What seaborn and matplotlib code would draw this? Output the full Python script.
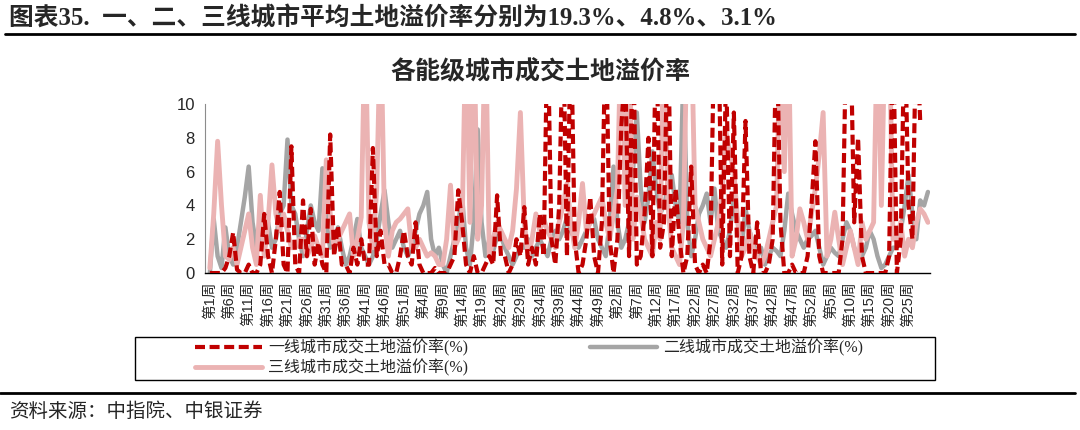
import numpy as np
import pandas as pd
import seaborn as sns
import matplotlib
matplotlib.use("Agg")
import matplotlib.pyplot as plt
from matplotlib.patches import Rectangle

nan = np.nan

# 一线城市成交土地溢价率(%)，周度
tier1 = [
    0, 0, 0, 0, 0.3, 1.0, 2.4, 0.2, 0, 0,
    0.5, 0, 0, 0.5, 3.5, 1.0, 0, 2.0, 4.8, 0.5,
    0, 7.5, 0.5, 0, 4.3, 1.0, 3.8, 0.5, 1.8, 0.5,
    0, 8.2, 1.0, 2.8, 0.5, 0.5, 0, 1.5, 0.5, 2.0,
    0.5, 0.5, 7.4, 1.0, 2.5, 0.5, 0.5, 0, 0, 1.0,
    2.5, 1.0, 0.5, 3.0, 0.5, 0, 0, 0, 0.3, 0,
    0, 0, 0.5, 1.0, 4.9, 3.0, 0.5, 0, 1.0, 0,
    0, 0.5, 1.0, 0.5, 4.6, 1.0, 1.0, 0, 0.5, 2.0,
    1.0, 3.9, 0.5, 1.5, 0.5, 3.5, 1.0, 15, 2.0, 0.5,
    4.0, 15, 1.0, 15, 2.0, 0, 0.5, 2.0, 4.5, 1.0,
    0, 3.0, 15, 2.0, 0, 2.0, 8.7, 12, 1.0, 15,
    0.5, 1.0, 3.5, 8.0, 1.0, 15, 1.5, 3.0, 15, 1.0,
    5.0, 2.0, 0, 1.0, 6.3, 0.5, 0, 0.5, 0, 2.0,
    15, 15, 0.5, 12, 1.0, 9.5, 0, 1.0, 9.0, 1.0,
    0, 3.0, 0, 0, 0.5, 2.0, 15, 3.0, 0, 0,
    0.5, 0, 0, 0, 1.0, 4.0, 7.8, 1.0, 0, 0,
    0, 0, 0, 2.0, 15, 15, 3.0, 8.0, 1.0, 0,
    0, 0, 0, 0, 0, 1.0, 15, 0, 2.0, 15,
    4.0, 2.0, 15, 9.0, nan, nan,
]

# 二线城市成交土地溢价率(%)
tier2 = [
    0, 3.2, 1.0, 0.3, 2.7, 1.0, 0.5, 1.5, 3.0, 4.5,
    6.3, 3.0, 1.5, 2.0, 2.5, 3.0, 1.5, 2.0, 3.5, 4.0,
    7.9, 4.0, 3.5, 2.0, 1.0, 2.5, 4.0, 3.0, 2.5, 6.2,
    3.0, 1.5, 2.0, 2.7, 1.5, 0.5, 1.0, 2.0, 3.2, 1.5,
    1.0, 0.5, 1.0, 2.0, 3.5, 4.9, 3.0, 1.5, 2.0, 2.5,
    1.5, 1.0, 1.5, 2.5, 3.5, 4.0, 4.8, 2.0, 1.0, 1.5,
    0.5, 0, 1.0, 2.0, 3.0, 4.5, 1.5, 0.5, 3.0, 8.5,
    3.0, 1.0, 2.0, 1.3, 2.2, 2.2, 1.5, 1.0, 0.5, 1.0,
    1.5, 1.5, 2.0, 1.0, 1.5, 2.0, 1.5, 1.0, 2.0, 2.5,
    2.0, 2.5, 3.3, 2.5, 2.0, 1.5, 2.0, 2.5, 3.0, 3.2,
    2.0, 1.5, 1.0, 3.0, 6.3, 3.0, 1.5, 2.0, 3.0, 6.0,
    9.5, 5.0, 3.0, 4.5, 7.2, 5.0, 3.5, 4.0, 5.0, 5.8,
    4.0, 3.0, 12, 3.0, 1.0, 2.0, 3.5, 4.0, 4.7, 3.0,
    5.0, 2.5, 2.0, 1.5, 2.5, 4.5, 3.0, 1.5, 3.8, 2.5,
    1.8, 1.0, 1.5, 0.5, 1.0, 1.5, 1.3, 1.0, 2.5, 4.7,
    3.5, 2.5, 2.0, 1.5, 2.0, 2.2, 2.5, 1.5, 0.5, 1.0,
    1.5, 1.2, 1.0, 2.0, 3.0, 2.5, 1.5, 1.0, 1.0, 1.5,
    2.5, 2.0, 1.0, 0.3, 0.5, 1.0, 1.5, 1.5, 2.5, 4.0,
    5.8, 3.5, 2.0, 4.3, 4.0, 4.8,
]

# 三线城市成交土地溢价率(%)
tier3 = [
    0.3, 3.5, 7.8, 4.0, 1.0, 0.8, 1.5, 0.5, 1.5, 2.5,
    3.5, 1.5, 0.5, 4.6, 1.0, 3.0, 6.4, 3.5, 2.5, 3.5,
    2.5, 1.5, 1.5, 2.0, 2.0, 1.0, 1.5, 2.2, 1.5, 1.0,
    6.7, 3.5, 1.5, 2.0, 2.5, 3.0, 3.5, 1.0, 2.0, 3.3,
    15, 3.0, 1.5, 5.0, 15, 3.0, 1.0, 2.5, 3.0, 3.2,
    3.5, 3.8, 1.5, 1.5, 2.0, 1.5, 1.0, 1.2, 1.0, 0.5,
    0.5, 2.0, 5.2, 1.5, 2.0, 3.0, 15, 3.0, 15, 2.0,
    4.0, 15, 1.0, 2.0, 3.0, 2.5, 2.0, 1.5, 2.5, 5.0,
    9.5, 3.0, 1.0, 2.0, 3.5, 2.5, 3.2, 2.5, 2.0, 1.5,
    3.0, 4.0, 5.3, 3.0, 1.5, 3.0, 5.3, 2.5, 3.0, 3.5,
    4.0, 4.5, 3.0, 2.0, 3.5, 5.0, 15, 4.0, 15, 2.0,
    4.5, 3.5, 2.0, 1.5, 1.0, 3.0, 2.0, 15, 4.0, 1.5,
    1.0, 0.5, 3.0, 15, 15, 4.0, 3.0, 2.0, 1.5, 1.0,
    2.0, 3.0, 5.0, 8.3, 7.0, 6.0, 3.0, 1.0, 1.5, 2.5,
    1.5, 1.0, 0.5, 1.0, 2.0, 3.0, 4.0, 15, 6.0, 15,
    1.0, 2.0, 3.8, 3.0, 2.0, 3.5, 5.0, 7.0, 9.5, 1.0,
    2.0, 3.6, 2.0, 0.5, 1.5, 2.5, 1.5, 0.5, 3.0, 2.0,
    2.5, 3.0, 15, 4.0, 15, 15, 2.0, 2.0, 3.0, 1.0,
    2.0, 1.5, 3.0, 3.8, 3.5, 3.0,
]

# 横轴标签（每5周一个）
tick_labels = [
    "第1周", "第6周", "第11周", "第16周", "第21周", "第26周", "第31周", "第36周",
    "第41周", "第46周", "第51周", "第4周", "第9周", "第14周", "第19周", "第24周",
    "第29周", "第34周", "第39周", "第44周", "第49周", "第2周", "第7周", "第12周",
    "第17周", "第22周", "第27周", "第32周", "第37周", "第42周", "第47周", "第52周",
    "第5周", "第10周", "第15周", "第20周", "第25周",
]

names = ["一线城市成交土地溢价率(%)", "二线城市成交土地溢价率(%)", "三线城市成交土地溢价率(%)"]

df = pd.DataFrame({"idx": np.arange(len(tier1)),
                   names[0]: tier1, names[1]: tier2, names[2]: tier3})

sns.set_style("white")
plt.rcParams['font.family'] = ['Liberation Sans', 'Noto Sans CJK SC', 'DejaVu Sans']
serif = ['Liberation Serif', 'Noto Sans CJK SC', 'DejaVu Sans']

fig = plt.figure(figsize=(10.8, 4.3), dpi=100)
ax = fig.add_axes([0.19, 0.365, 0.671, 0.393])

sns.lineplot(data=df, x="idx", y=names[1], ax=ax, color="#A5A5A5", linewidth=3.2,
             label=names[1], zorder=2)
sns.lineplot(data=df, x="idx", y=names[2], ax=ax, color="#EBB3B3", linewidth=3.5,
             label=names[2], zorder=3)
sns.lineplot(data=df, x="idx", y=names[0], ax=ax, color="#C00000", linewidth=3.0,
             label=names[0], zorder=4)
ax.lines[-1].set_dashes((2.4, 1.1))

ax.set_xlim(-1.2, len(tier1) - 0.5)
ax.set_ylim(0, 10)
ax.set_yticks(range(0, 11, 2))
ax.set_xlabel("")
ax.set_ylabel("")
ax.set_xticks(np.arange(0, len(tick_labels) * 5, 5))
ax.set_xticklabels(tick_labels, rotation=90, fontsize=10.5)
ax.set_xticks(np.arange(len(tier1)), minor=True)
ax.tick_params(axis="x", which="both", direction="out", length=4, width=1, color="black", pad=2)
ax.tick_params(axis="y", direction="out", length=4, width=0.8, color="#7f7f7f", labelsize=12)
for s in ["top", "right"]:
    ax.spines[s].set_visible(False)
ax.spines["left"].set_color("#8c8c8c")
ax.spines["left"].set_linewidth(0.8)
ax.spines["bottom"].set_color("black")
ax.spines["bottom"].set_linewidth(1.0)

# 图例：一线、二线在第一行，三线在第二行
handles, labels = ax.get_legend_handles_labels()
ax.get_legend().remove()
order = [labels.index(names[0]), labels.index(names[2]), labels.index(names[1])]
leg = fig.legend([handles[i] for i in order], [labels[i] for i in order],
                 loc="upper left", bbox_to_anchor=(195 / 1080, 1 - 339 / 430),
                 ncol=2, frameon=False, handlelength=4.2, handletextpad=0.4,
                 columnspacing=7.6, borderpad=0, borderaxespad=0, labelspacing=0.2,
                 prop={'family': serif, 'size': 11.5})
fig.add_artist(Rectangle((135 / 1080, 1 - 380 / 430), 800 / 1080, 43 / 430,
                         transform=fig.transFigure, fill=False, edgecolor="black",
                         linewidth=1.0))

fig.text(0.008, 0.958, "图表35.  一、二、三线城市平均土地溢价率分别为19.3%、4.8%、3.1%",
         fontsize=17.8, fontweight="bold", family=serif, va="center", ha="left")
fig.add_artist(plt.Line2D([0.005, 0.995], [0.922, 0.922], color="black", linewidth=2))
fig.text(0.5, 0.833, "各能级城市成交土地溢价率", fontsize=18, fontweight="bold",
         family=serif, va="center", ha="center")
fig.add_artist(plt.Line2D([0.0, 0.995], [0.086, 0.086], color="black", linewidth=2))
fig.text(0.008, 0.042, "资料来源：中指院、中银证券", fontsize=14, family=serif,
         va="center", ha="left")

fig.savefig("out.png", dpi=100)
